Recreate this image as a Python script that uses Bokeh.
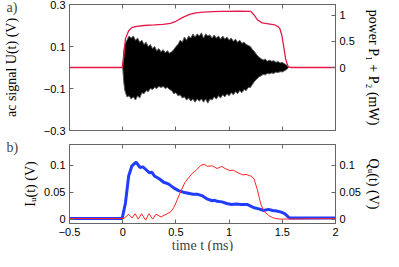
import math
from bokeh.plotting import figure
from bokeh.models import Range1d, LinearAxis, FixedTicker, Title
from bokeh.layouts import column
from bokeh.embed import file_html
from bokeh.resources import INLINE

# ---------------- data ----------------
# panel a) envelope of the ac signal U(t) (V)
t_env = [0.00, 0.01, 0.02, 0.04, 0.06, 0.08, 0.10, 0.12, 0.14, 0.16, 0.18, 0.20, 0.22, 0.24,
         0.26, 0.28, 0.30, 0.32, 0.34, 0.36, 0.38, 0.40, 0.42, 0.44, 0.46, 0.48, 0.50,
         0.52, 0.54, 0.56, 0.58, 0.60, 0.62, 0.64, 0.66, 0.68, 0.70, 0.72, 0.74, 0.76,
         0.78, 0.80, 0.82, 0.84, 0.86, 0.88, 0.90, 0.92, 0.94, 0.96, 0.98, 1.00, 1.02,
         1.04, 1.06, 1.08, 1.10, 1.12, 1.14, 1.16, 1.18, 1.20, 1.22, 1.24, 1.26, 1.28,
         1.30, 1.32, 1.34, 1.36, 1.38, 1.40, 1.42, 1.44, 1.46, 1.48, 1.50, 1.52, 1.54, 1.56]
u_upper = [0.0, 0.08, 0.11, 0.13, 0.15, 0.14, 0.15, 0.13, 0.14, 0.12, 0.13, 0.11, 0.12, 0.10,
           0.11, 0.09, 0.10, 0.08, 0.09, 0.075, 0.085, 0.07, 0.08, 0.068, 0.075, 0.085, 0.10,
           0.11, 0.13, 0.12, 0.145, 0.13, 0.15, 0.14, 0.16, 0.145, 0.16, 0.15, 0.165, 0.14,
           0.16, 0.15, 0.155, 0.14, 0.155, 0.14, 0.15, 0.135, 0.15, 0.135, 0.145, 0.13, 0.14,
           0.125, 0.135, 0.12, 0.13, 0.115, 0.12, 0.11, 0.105, 0.10, 0.085, 0.075, 0.06, 0.05,
           0.042, 0.036, 0.04, 0.03, 0.035, 0.03, 0.032, 0.025, 0.028, 0.022, 0.024, 0.018, 0.012, 0.0]
u_lower = [0.0, -0.07, -0.11, -0.14, -0.135, -0.15, -0.14, -0.155, -0.135, -0.145, -0.12, -0.125,
           -0.11, -0.115, -0.10, -0.105, -0.095, -0.10, -0.09, -0.095, -0.09, -0.10, -0.095,
           -0.105, -0.11, -0.125, -0.12, -0.135, -0.13, -0.145, -0.14, -0.155, -0.145, -0.16,
           -0.15, -0.165, -0.15, -0.16, -0.15, -0.165, -0.15, -0.17, -0.15, -0.155, -0.14,
           -0.15, -0.135, -0.145, -0.13, -0.14, -0.125, -0.135, -0.12, -0.13, -0.115, -0.125,
           -0.11, -0.12, -0.105, -0.11, -0.095, -0.095, -0.08, -0.065, -0.055, -0.045, -0.04,
           -0.033, -0.035, -0.028, -0.03, -0.026, -0.028, -0.022, -0.024, -0.02, -0.021,
           -0.016, -0.01, 0.0]

# panel a) power P1 + P2 (mW)
t_pw = [-0.5, -0.005, 0.01, 0.026, 0.056, 0.085, 0.117, 0.20, 0.298, 0.38, 0.449, 0.50, 0.57,
        0.63, 0.688, 0.76, 0.842, 0.932, 1.10, 1.204, 1.235, 1.265, 1.31, 1.37, 1.431, 1.46,
        1.477, 1.495, 1.506, 1.531, 1.548, 1.558, 1.585, 2.0]
pw = [0.0, 0.0, 0.2, 0.55, 0.70, 0.76, 0.78, 0.80, 0.81, 0.82, 0.84, 0.88, 0.96,
      1.01, 1.04, 1.055, 1.065, 1.07, 1.075, 1.07, 1.0, 0.91, 0.85, 0.83, 0.81, 0.78,
      0.74, 0.62, 0.49, 0.17, 0.05, 0.01, 0.0, 0.0]

# panel b) in-phase component I_U(t) (V)
t_i = [-0.5, -0.005, 0.026, 0.056, 0.087, 0.126, 0.162, 0.19, 0.207, 0.252, 0.275, 0.298, 0.343,
       0.388, 0.41, 0.433, 0.479, 0.525, 0.57, 0.615, 0.66, 0.705, 0.751, 0.797, 0.842, 0.865,
       0.887, 0.932, 0.978, 1.023, 1.068, 1.114, 1.174, 1.234, 1.28, 1.325, 1.37, 1.41, 1.447,
       1.49, 1.522, 1.545, 1.567, 2.0]
i_u = [0.001, 0.001, 0.030, 0.080, 0.099, 0.106, 0.096, 0.097, 0.094, 0.086, 0.087, 0.080, 0.075,
       0.068, 0.067, 0.065, 0.058, 0.053, 0.050, 0.048, 0.046, 0.046, 0.043, 0.037, 0.034, 0.035,
       0.033, 0.032, 0.029, 0.027, 0.028, 0.027, 0.027, 0.021, 0.019, 0.016, 0.018, 0.016, 0.015,
       0.013, 0.010, 0.006, 0.002, 0.002]

# panel b) quadrature component Q_U(t) (V)
t_q = [-0.5, 0.01, 0.056, 0.087, 0.117, 0.146, 0.177, 0.216, 0.246, 0.282, 0.313, 0.359, 0.418,
       0.449, 0.479, 0.509, 0.54, 0.585, 0.645, 0.69, 0.736, 0.767, 0.796, 0.842, 0.887, 0.932,
       0.962, 1.008, 1.039, 1.084, 1.129, 1.159, 1.204, 1.234, 1.265, 1.295, 1.325, 1.37, 1.416,
       1.476, 2.0]
q_u = [0.001, 0.001, 0.009, 0.002, 0.010, 0.000, 0.010, -0.002, 0.010, 0.000, 0.009, 0.004, 0.010,
       0.013, 0.021, 0.034, 0.049, 0.068, 0.083, 0.091, 0.100, 0.102, 0.098, 0.099, 0.094, 0.098,
       0.094, 0.090, 0.091, 0.086, 0.082, 0.083, 0.080, 0.075, 0.055, 0.030, 0.015, 0.007, 0.002,
       0.000, 0.001]

x_ticks = [-0.5, 0, 0.5, 1, 1.5, 2]
x_tick_labels = ["\u22120.5", "0", "0.5", "1", "1.5", "2"]
u_ticks = [-0.3, -0.1, 0.1, 0.3]
u_tick_labels = ["\u22120.3", "\u22120.1", "0.1", "0.3"]
pw_ticks = [0, 0.5, 1]
pw_tick_labels = ["0", "0.5", "1"]
b_ticks = [0, 0.05, 0.1]
b_tick_labels = ["0", "0.05", "0.1"]

AX = "#666666"
TICK_FONT = "Liberation Sans"
LABEL_FONT = "Liberation Serif"


def style_axis(ax, ticks, labels, show_labels=True):
    ax.ticker = FixedTicker(ticks=ticks)
    ax.major_tick_in = 4
    ax.major_tick_out = 0
    ax.minor_tick_line_color = None
    ax.axis_line_color = AX
    ax.major_tick_line_color = AX
    ax.major_label_text_font = TICK_FONT
    if show_labels:
        ax.major_label_overrides = {float(k): v for k, v in zip(ticks, labels)}
        ax.major_label_text_color = "black"
        ax.major_label_text_font_size = "11px"
        ax.major_label_standoff = 4
    else:
        ax.major_label_text_color = None
        ax.major_label_text_font_size = "0px"
        ax.major_label_standoff = 0
    ax.axis_label_text_font = LABEL_FONT
    ax.axis_label_text_font_size = "14px"
    ax.axis_label_text_font_style = "normal"
    ax.axis_label_text_color = "black"


def base_fig(height, y_range, extra, top, bottom):
    p = figure(width=383, height=height, x_range=Range1d(-0.5, 2), y_range=y_range,
               extra_y_ranges=extra, toolbar_location=None, output_backend="svg",
               min_border_left=64, min_border_right=43, min_border_top=top,
               min_border_bottom=bottom)
    p.grid.visible = False
    p.outline_line_color = AX
    p.background_fill_color = "white"
    p.border_fill_color = "white"
    return p


def panel_tag(p, text, standoff):
    p.add_layout(Title(text=text, align="left", offset=-63, standoff=standoff,
                       text_font=LABEL_FONT, text_font_size="14px",
                       text_font_style="normal"), "above")


# ---------------- panel a) ----------------
p1 = base_fig(138, Range1d(-0.3, 0.3), {"pw": Range1d(-1.2, 1.2)}, 4, 8)
p1.varea(x=t_env, y1=u_lower, y2=u_upper, fill_color="black")
p1.line(t_env, u_upper, line_color="#5a5a5a", line_width=1)
p1.line(t_env, u_lower, line_color="#5a5a5a", line_width=1)
p1.line(t_pw, pw, y_range_name="pw", line_color="#e3194a", line_width=1.3)

style_axis(p1.xaxis[0], x_ticks, x_tick_labels, show_labels=False)
ax_top1 = LinearAxis()
style_axis(ax_top1, x_ticks, x_tick_labels, show_labels=False)
p1.add_layout(ax_top1, "above")
style_axis(p1.yaxis[0], u_ticks, u_tick_labels)
p1.yaxis[0].axis_label = "ac signal U(t) (V)"
p1.yaxis[0].axis_label_standoff = 22
ax_pw = LinearAxis(y_range_name="pw")
style_axis(ax_pw, pw_ticks, pw_tick_labels)
ax_pw.axis_label = "power P\u2081 + P\u2082 (mW)"
ax_pw.axis_label_standoff = 8
p1.add_layout(ax_pw, "right")
panel_tag(p1, "a)", -21)

# ---------------- panel b) ----------------
p2 = base_fig(113, Range1d(-0.0082, 0.1386), {"q": Range1d(-0.0082, 0.1386)}, 6, 28)
p2.line(t_i, i_u, line_color="#1f3cff", line_width=3)
p2.line(t_q, q_u, y_range_name="q", line_color="#ff2424", line_width=1)

style_axis(p2.xaxis[0], x_ticks, x_tick_labels)
p2.xaxis[0].major_label_standoff = 4
p2.xaxis[0].major_label_text_line_height = 0.9
p2.add_layout(Title(text="time t (ms)", align="center", standoff=-6,
                    text_font=LABEL_FONT, text_font_size="14px",
                    text_font_style="normal", text_line_height=0.6), "below")
ax_top2 = LinearAxis()
style_axis(ax_top2, x_ticks, x_tick_labels, show_labels=False)
p2.add_layout(ax_top2, "above")
style_axis(p2.yaxis[0], b_ticks, b_tick_labels)
p2.yaxis[0].axis_label = "I\u1d64(t) (V)"
p2.yaxis[0].axis_label_standoff = 3
ax_q = LinearAxis(y_range_name="q")
style_axis(ax_q, b_ticks, b_tick_labels)
ax_q.axis_label = "Q\u1d64(t) (V)"
ax_q.axis_label_standoff = 2
p2.add_layout(ax_q, "right")
panel_tag(p2, "b)", -21)

layout = column(p1, p2)
open("out.html", "w").write(file_html(layout, INLINE))
